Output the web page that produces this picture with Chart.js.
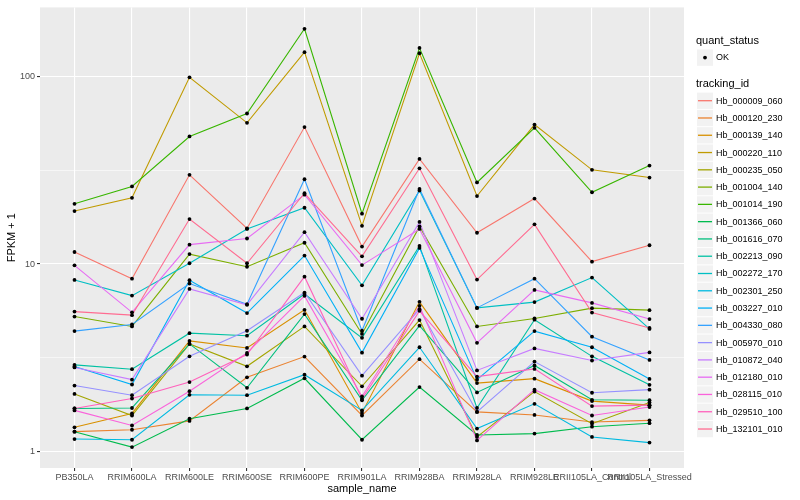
<!DOCTYPE html>
<html>
<head>
<meta charset="utf-8">
<script src="https://cdn.jsdelivr.net/npm/chart.js@4.4.0/dist/chart.umd.min.js"></script>
<style>
  html, body { margin: 0; padding: 0; background: #fff; }
  #wrap { width: 800px; height: 500px; }
</style>
</head>
<body>
<div id="wrap"><canvas id="c" width="800" height="500"></canvas></div>
<script>
// sample names on the x axis
const sampleNames = ['PB350LA', 'RRIM600LA', 'RRIM600LE', 'RRIM600SE', 'RRIM600PE', 'RRIM901LA',
  'RRIM928BA', 'RRIM928LA', 'RRIM928LE', 'RRII105LA_Control', 'RRII105LA_Stressed'];

const trackingIds = ['Hb_000009_060', 'Hb_000120_230', 'Hb_000139_140', 'Hb_000220_110', 'Hb_000235_050',
  'Hb_001004_140', 'Hb_001014_190', 'Hb_001366_060', 'Hb_001616_070', 'Hb_002213_090', 'Hb_002272_170',
  'Hb_002301_250', 'Hb_003227_010', 'Hb_004330_080', 'Hb_005970_010', 'Hb_010872_040', 'Hb_012180_010',
  'Hb_028115_010', 'Hb_029510_100', 'Hb_132101_010'];

// FPKM + 1 per gene, one value per sample
const hb_000009_060 = [11.6, 8.35, 30.0, 15.5, 54.0, 12.4, 36.5, 14.7, 22.4, 10.3, 12.6];
const hb_000120_230 = [1.27, 1.30, 1.45, 2.48, 3.20, 1.55, 3.10, 1.62, 1.56, 1.43, 1.46];
const hb_000139_140 = [1.34, 1.59, 3.88, 3.56, 5.69, 1.60, 6.28, 2.31, 2.44, 1.85, 1.76];
const hb_000220_110 = [19.2, 22.6, 99.6, 56.9, 135.8, 16.0, 134, 23.1, 55.7, 31.9, 29.0];
const hb_000235_050 = [2.02, 1.55, 3.74, 2.84, 4.64, 2.22, 5.02, 1.19, 2.08, 1.40, 1.82];
const hb_001004_140 = [5.24, 4.64, 11.3, 9.67, 13.0, 4.23, 15.9, 4.64, 5.12, 5.81, 5.67];
const hb_001014_190 = [21.0, 26.0, 48.1, 63.8, 181, 18.6, 143, 27.3, 53.5, 24.2, 33.6];
const hb_001366_060 = [1.27, 1.05, 1.49, 1.69, 2.45, 1.15, 2.20, 1.22, 1.24, 1.35, 1.41];
const hb_001616_070 = [1.69, 1.70, 3.74, 2.18, 5.40, 1.87, 4.68, 2.06, 2.87, 1.88, 1.87];
const hb_002213_090 = [2.89, 2.74, 4.27, 4.14, 6.92, 4.03, 12.5, 1.70, 5.04, 3.21, 2.26];
const hb_002272_170 = [8.22, 6.78, 10.1, 15.4, 20.0, 7.70, 24.7, 5.83, 6.26, 8.47, 4.50];
const hb_002301_250 = [1.16, 1.15, 2.00, 1.99, 2.56, 1.65, 3.59, 1.32, 1.79, 1.19, 1.11];
const hb_003227_010 = [2.83, 2.27, 8.19, 5.47, 11.1, 3.36, 12.2, 2.41, 4.38, 3.59, 2.43];
const hb_004330_080 = [4.38, 4.75, 7.86, 6.10, 28.4, 4.40, 25.2, 5.83, 8.35, 4.09, 3.07];
const hb_005970_010 = [2.24, 1.99, 3.21, 4.40, 7.04, 2.53, 5.74, 1.62, 3.01, 2.05, 2.13];
const hb_010872_040 = [2.80, 2.41, 7.36, 6.05, 14.8, 5.10, 16.8, 2.70, 3.54, 3.05, 3.37];
const hb_012180_010 = [9.84, 5.52, 12.7, 13.7, 23.5, 9.87, 15.4, 3.79, 7.27, 6.20, 5.08];
const hb_028115_010 = [1.65, 1.37, 2.09, 3.35, 6.76, 1.96, 5.98, 1.14, 2.13, 1.55, 1.72];
const hb_029510_100 = [1.69, 1.91, 2.34, 3.28, 8.56, 1.90, 5.62, 2.50, 2.75, 1.74, 1.76];
const hb_132101_010 = [5.57, 5.33, 17.4, 10.1, 23.9, 11.0, 32.5, 8.26, 16.3, 5.50, 4.55];

const seriesValues = [hb_000009_060, hb_000120_230, hb_000139_140, hb_000220_110, hb_000235_050,
  hb_001004_140, hb_001014_190, hb_001366_060, hb_001616_070, hb_002213_090, hb_002272_170,
  hb_002301_250, hb_003227_010, hb_004330_080, hb_005970_010, hb_010872_040, hb_012180_010,
  hb_028115_010, hb_029510_100, hb_132101_010];

// y axis: labelled ticks and extra (minor) grid lines
const yTickLabels = [1, 10, 100];
const yMinorGrid = [3.1623, 31.623];

// ggplot default hue palette for 20 levels
const palette = ['#F8766D', '#EA8331', '#D89000', '#C09B00', '#A3A500', '#7CAE00', '#39B600', '#00BB4E',
  '#00BF7D', '#00C1A3', '#00BFC4', '#00BAE0', '#00B0F6', '#35A2FF', '#9590FF', '#C77CFF', '#E76BF3',
  '#FA62DB', '#FF62BC', '#FF6C91'];

const FONT = "'Liberation Sans', Arial, Helvetica, sans-serif";
const N = seriesValues.length;

const datasets = [];
seriesValues.forEach((vals, i) => {
  datasets.push({
    label: trackingIds[i],
    data: vals.map((v, k) => ({ x: k, y: v })),
    borderColor: palette[i],
    borderWidth: 1.1,
    pointRadius: 0,
    fill: false,
    tension: 0,
    order: N - i + 1
  });
});
// the black points sit above all lines
seriesValues.forEach((vals, i) => {
  datasets.push({
    label: 'OK',
    data: vals.map((v, k) => ({ x: k, y: v })),
    showLine: false,
    pointRadius: 1.9,
    pointBorderWidth: 0,
    pointBackgroundColor: '#000',
    order: 0
  });
});

const panelBg = {
  id: 'panelBg',
  beforeDraw(chart) {
    const a = chart.chartArea;
    const ctx = chart.ctx;
    ctx.save();
    ctx.fillStyle = '#EBEBEB';
    ctx.fillRect(a.left, a.top, a.right - a.left, a.bottom - a.top);
    ctx.restore();
  }
};

// legends drawn like ggplot guides
const ggLegend = {
  id: 'ggLegend',
  afterDraw(chart) {
    const ctx = chart.ctx;
    const x0 = 696;
    ctx.save();
    ctx.textAlign = 'left';
    ctx.textBaseline = 'middle';
    ctx.fillStyle = '#000';
    ctx.font = '11px ' + FONT;
    ctx.fillText('quant_status', x0, 41);

    ctx.fillStyle = '#F2F2F2';
    ctx.fillRect(697, 49.5, 16, 16.3);
    ctx.fillStyle = '#000';
    ctx.beginPath();
    ctx.arc(705, 57.6, 1.9, 0, Math.PI * 2);
    ctx.fill();
    ctx.font = '9px ' + FONT;
    ctx.fillText('OK', 716, 58);

    ctx.font = '11px ' + FONT;
    ctx.fillText('tracking_id', x0, 84);

    trackingIds.forEach((id, i) => {
      const cy = 100.7 + i * 17.28;
      ctx.fillStyle = '#F2F2F2';
      ctx.fillRect(697, cy - 8.1, 16, 16.3);
      ctx.strokeStyle = palette[i];
      ctx.lineWidth = 1.3;
      ctx.beginPath();
      ctx.moveTo(698, cy);
      ctx.lineTo(712, cy);
      ctx.stroke();
      ctx.fillStyle = '#000';
      ctx.font = '9px ' + FONT;
      ctx.fillText(id, 716, cy + 0.5);
    });
    ctx.restore();
  }
};

new Chart(document.getElementById('c'), {
  type: 'line',
  data: { datasets },
  plugins: [panelBg, ggLegend],
  options: {
    responsive: false,
    animation: false,
    layout: { padding: { top: 5, right: 116, left: 0, bottom: 0 } },
    plugins: { legend: { display: false }, tooltip: { enabled: false } },
    scales: {
      x: {
        type: 'linear',
        min: -0.6,
        max: sampleNames.length - 1 + 0.6,
        afterFit(s) { s.height = 32; },
        afterBuildTicks(s) { s.ticks = sampleNames.map((n, k) => ({ value: k })); },
        border: { display: false },
        grid: { color: '#FFFFFF', lineWidth: 1.1, tickColor: '#333333', tickLength: 3 },
        ticks: {
          autoSkip: false, maxRotation: 0, padding: 1,
          color: '#4D4D4D', font: { family: FONT, size: 9 },
          callback: (v) => sampleNames[v]
        },
        title: { display: true, text: 'sample_name', color: '#000', font: { family: FONT, size: 11 }, padding: { top: 0, bottom: 4 } }
      },
      y: {
        type: 'logarithmic',
        bounds: 'data',
        min: 0.812,
        max: 235.6,
        afterFit(s) { s.width = 40; },
        afterBuildTicks(s) {
          s.ticks = yTickLabels.concat(yMinorGrid).sort((a, b) => a - b).map(v => ({ value: v }));
        },
        border: { display: false },
        grid: {
          color: '#FFFFFF',
          lineWidth: (c) => yTickLabels.includes(c.tick.value) ? 1.1 : 0.55,
          tickColor: (c) => yTickLabels.includes(c.tick.value) ? '#333333' : 'rgba(0,0,0,0)',
          tickLength: 3
        },
        ticks: {
          autoSkip: false, padding: 2,
          color: '#4D4D4D', font: { family: FONT, size: 9 },
          callback: (v) => yTickLabels.includes(v) ? String(v) : ''
        },
        title: { display: true, text: 'FPKM + 1', color: '#000', font: { family: FONT, size: 11 }, padding: { top: 5, bottom: 0 } }
      }
    }
  }
});
</script>
</body>
</html>
